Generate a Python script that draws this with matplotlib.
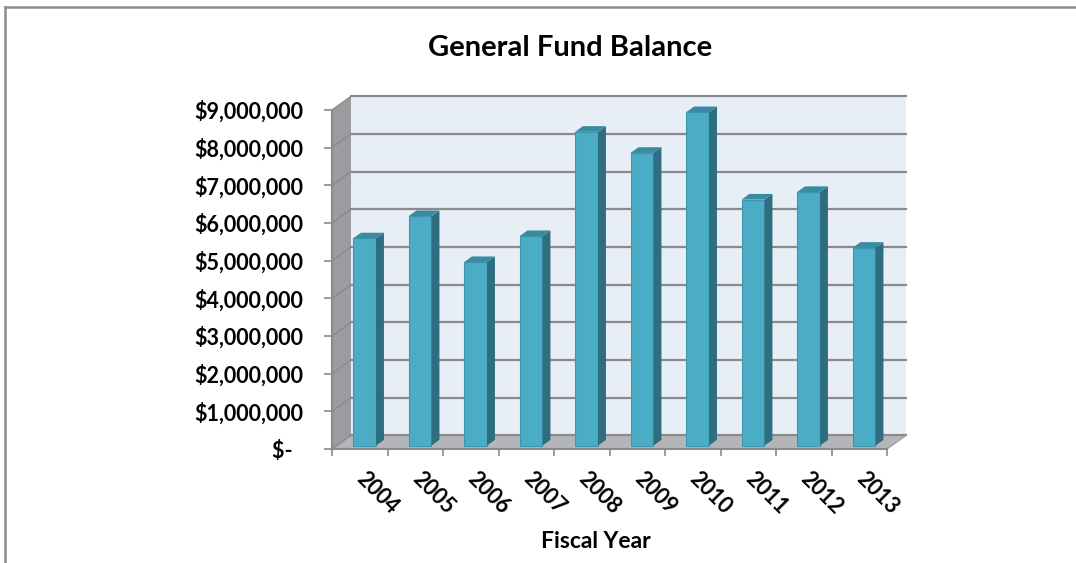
import matplotlib.pyplot as plt
from matplotlib.patches import Polygon
from matplotlib.lines import Line2D
from matplotlib.ticker import FuncFormatter

# General fund balance by fiscal year
years = ['2004', '2005', '2006', '2007', '2008', '2009', '2010', '2011', '2012', '2013']
balance = [5500000, 6090000, 4870000, 5560000, 8330000, 7770000, 8850000, 6530000, 6730000, 5250000]

plt.rcParams['font.family'] = ['Lato', 'DejaVu Sans']

fig = plt.figure(figsize=(10.76, 5.63), dpi=100)
ax = fig.add_axes([332 / 1076, (563 - 449) / 563, 555 / 1076, (449 - 110) / 563])

n = len(years)
ymax = 9000000
ax.set_xlim(-0.5, n - 0.5)
ax.set_ylim(0, ymax)

# oblique depth of the 3D box, in data units
DX = 0.342
DY = 361000

# walls and floor
back = Polygon([(-0.5 + DX, DY), (n - 0.5 + DX, DY), (n - 0.5 + DX, ymax + DY), (-0.5 + DX, ymax + DY)],
               closed=True, facecolor='#E8EEF6', edgecolor='none', clip_on=False, zorder=1)
side = Polygon([(-0.5, 0), (-0.5 + DX, DY), (-0.5 + DX, ymax + DY), (-0.5, ymax)],
               closed=True, facecolor='#9A9C9F', edgecolor='none', clip_on=False, zorder=1)
floor = Polygon([(-0.5, 0), (n - 0.5, 0), (n - 0.5 + DX, DY), (-0.5 + DX, DY)],
                closed=True, facecolor='#B3B5B8', edgecolor='none', clip_on=False, zorder=1)
for p in (back, side, floor):
    ax.add_patch(p)

# gridlines on the back wall and the side wall
for v in range(0, ymax + 1, 1000000):
    ax.plot([-0.5 + DX, n - 0.5 + DX], [v + DY, v + DY], color='#8A8A8A', lw=1.6, clip_on=False, zorder=2)
    ax.plot([-0.5, -0.5 + DX], [v, v + DY], color='#8A8A8A', lw=1.0, clip_on=False, zorder=2)
ax.plot([n - 0.5, n - 0.5 + DX], [0, DY], color='#A0A0A0', lw=1.0, clip_on=False, zorder=2)

# 3D columns
w = 0.414
f1, f2 = 0.25, 0.67
dd = (f2 - f1) * DX
dv = (f2 - f1) * DY
for i, v in enumerate(balance):
    x0 = i - w / 2 + f1 * DX
    x1 = x0 + w
    y0 = f1 * DY
    front = Polygon([(x0, y0), (x1, y0), (x1, y0 + v), (x0, y0 + v)], closed=True,
                    facecolor='#4BACC6', edgecolor='#3E97AF', lw=0.8, clip_on=False, zorder=3)
    right = Polygon([(x1, y0), (x1 + dd, y0 + dv), (x1 + dd, y0 + dv + v), (x1, y0 + v)], closed=True,
                    facecolor='#2F6E80', edgecolor='none', clip_on=False, zorder=3)
    top = Polygon([(x0, y0 + v), (x1, y0 + v), (x1 + dd, y0 + dv + v), (x0 + dd, y0 + dv + v)], closed=True,
                  facecolor='#3A8AA1', edgecolor='none', clip_on=False, zorder=3)
    for p in (front, right, top):
        ax.add_patch(p)

ax.set_facecolor('none')
for s in ('top', 'right'):
    ax.spines[s].set_visible(False)
for s in ('left', 'bottom'):
    ax.spines[s].set_color('#8A8A8A')
    ax.spines[s].set_linewidth(1.5)
    ax.spines[s].set_zorder(4)


def money(v, pos):
    if v == 0:
        return '$-  '
    return '${:,.0f}'.format(v)


ax.set_yticks(range(0, ymax + 1, 1000000))
ax.yaxis.set_major_formatter(FuncFormatter(money))
ax.tick_params(axis='y', direction='out', length=6, width=1.2, color='#8A8A8A', pad=15,
               labelsize=15.5)
for lab in ax.get_yticklabels():
    lab.set_fontweight('bold')

ax.set_xticks([i - 0.5 for i in range(n + 1)])
ax.set_xticklabels([])
ax.set_xticks(range(n), minor=True)
ax.set_xticklabels(years, minor=True, rotation=-45, ha='left', va='center',
                   rotation_mode='anchor', fontsize=15.5, fontweight='bold')
ax.tick_params(axis='x', which='major', direction='out', length=5, width=1.2, color='#8A8A8A')
ax.tick_params(axis='x', which='minor', length=0, pad=19)

fig.text(570 / 1076, 1 - 48 / 563, 'General Fund Balance', ha='center', va='center',
         fontsize=21, fontweight='bold')
fig.text(596 / 1076, 1 - 542 / 563, 'Fiscal Year', ha='center', va='center',
         fontsize=16.5, fontweight='bold')

# chart area border
fig.add_artist(Line2D([5 / 1076, 5 / 1076], [0, 1 - 7 / 563], color='#8C8C8C', lw=1.8))
fig.add_artist(Line2D([5 / 1076, 1], [1 - 7 / 563, 1 - 7 / 563], color='#8C8C8C', lw=1.8))

fig.savefig('out.png', dpi=100)
